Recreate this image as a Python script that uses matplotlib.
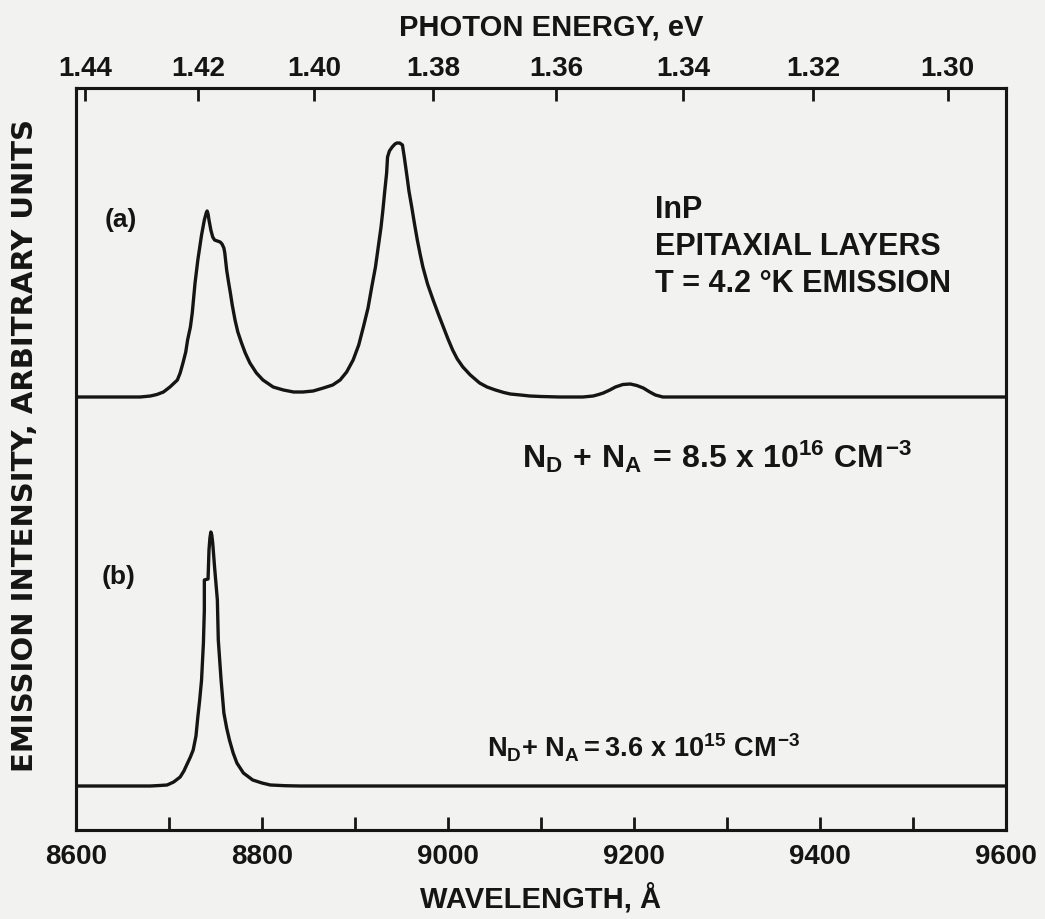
import numpy as np
import matplotlib.pyplot as plt


# Police proche de l'Helvetica grasse de l'original
plt.rcParams['font.family'] = ['Liberation Sans', 'DejaVu Sans']
plt.rcParams['font.weight'] = 'bold'
plt.rcParams['mathtext.fontset'] = 'custom'
plt.rcParams['mathtext.rm'] = 'Liberation Sans:bold'
plt.rcParams['mathtext.it'] = 'Liberation Sans:bold'
plt.rcParams['mathtext.bf'] = 'Liberation Sans:bold'

# Spectre (a) : N_D + N_A = 8.5e16 cm-3 (longueur d'onde en Å, intensité arbitraire)
longueur_a = [8600, 8669, 8680, 8687, 8694, 8701, 8709, 8712, 8715, 8718, 8720, 8723,
              8725, 8728, 8731, 8735, 8738, 8740, 8741, 8742, 8743, 8745, 8747, 8749,
              8752, 8755, 8757, 8759, 8760, 8762, 8764, 8766, 8768, 8771, 8774, 8778,
              8782, 8787, 8794, 8801, 8812, 8823, 8834, 8844, 8855, 8866, 8876, 8884,
              8891, 8898, 8904, 8909, 8914, 8918, 8922, 8925, 8928, 8930, 8932, 8934,
              8935, 8937, 8940, 8943, 8945, 8948, 8951, 8953, 8956, 8958, 8961, 8964,
              8967, 8970, 8973, 8978, 8984, 8990, 8995, 9000, 9005, 9010, 9016, 9024,
              9034, 9042, 9051, 9060, 9067, 9078, 9088, 9100, 9120, 9145, 9156, 9162,
              9167, 9174, 9180, 9188, 9196, 9203, 9210, 9217, 9223, 9231, 9600]
intensite_a = [0, 0, 1, 2.5, 5, 10, 17, 24, 34, 45, 57, 70,
               84, 114, 137, 162, 177, 184, 186, 183, 177, 167, 160, 157,
               156, 155, 153, 149, 144, 127, 115, 104, 92, 77, 65, 54,
               44, 34, 24, 17, 10, 7, 5, 5, 6, 9, 12, 17,
               25, 37, 52, 70, 89, 110, 130, 150, 170, 187, 206, 224,
               240, 246, 250, 253, 254, 254, 252, 240, 220, 206, 190, 173,
               157, 143, 130, 113, 97, 82, 70, 58, 47, 38, 30, 22,
               14, 10, 7, 4.5, 3, 2, 1, 0.5, 0, 0, 1, 2.5,
               4, 7, 10, 12.5, 13, 11.5, 9, 5, 2, 0, 0]

# Spectre (b) : N_D + N_A = 3.6e15 cm-3
longueur_b = [8600, 8680, 8690, 8698, 8705, 8712, 8716, 8720, 8723, 8726, 8729, 8731,
              8733, 8735, 8737, 8738, 8738, 8742, 8743, 8744, 8745, 8746, 8747, 8749,
              8752, 8753, 8756, 8759, 8762, 8765, 8769, 8773, 8780, 8790, 8800, 8809,
              8825, 8841, 9600]
intensite_b = [0, 0, 0.5, 1, 4, 9, 15, 23, 29, 36, 50, 69,
               86, 106, 143, 176, 206, 207, 236, 248, 254, 251, 243, 219,
               186, 146, 106, 73, 58, 46, 33, 23, 13, 6, 3, 1,
               0.3, 0, 0]

# Graduations
graduations_lambda = [8600, 8800, 9000, 9200, 9400, 9600]
graduations_mineures = [8700, 8900, 9100, 9300, 9500]
energies_ev = [1.44, 1.42, 1.40, 1.38, 1.36, 1.34, 1.32, 1.30]
etiquettes_ev = ["1.44", "1.42", "1.40", "1.38", "1.36", "1.34", "1.32", "1.30"]

HC = 12398.4  # eV.Å
COULEUR = '#151515'
FOND = '#f2f2f0'


def ev_vers_angstrom(e):
    return HC / np.asarray(e)


fig = plt.figure(figsize=(10.45, 9.19), dpi=100, facecolor=FOND)
ax = fig.add_axes([76 / 1045, 1 - 830 / 919, 930 / 1045, 742 / 919])
ax.set_facecolor(FOND)

# Décalage vertical des deux courbes
decalage_a = 433
decalage_b = 44

ax.plot(longueur_a, np.array(intensite_a) + decalage_a, color=COULEUR, lw=2.4,
        solid_joinstyle='round')
ax.plot(longueur_b, np.array(intensite_b) + decalage_b, color=COULEUR, lw=2.4,
        solid_joinstyle='round')

ax.set_xlim(8600, 9600)
ax.set_ylim(0, 742)

for spine in ax.spines.values():
    spine.set_linewidth(2.2)
    spine.set_color(COULEUR)

ax.set_yticks([])
ax.set_xticks(graduations_lambda)
ax.set_xticks(graduations_mineures, minor=True)
ax.set_xticklabels([str(v) for v in graduations_lambda])
ax.tick_params(axis='x', which='both', direction='in', length=9.5, width=2,
               color=COULEUR, labelsize=20, pad=10, labelcolor=COULEUR)

# Axe du haut : énergie des photons
ax_haut = ax.twiny()
ax_haut.set_xlim(ax.get_xlim())
ax_haut.set_xticks(ev_vers_angstrom(energies_ev))
ax_haut.set_xticklabels(etiquettes_ev)
ax_haut.tick_params(axis='x', direction='in', length=9, width=2, color=COULEUR,
                    labelsize=20, pad=4, labelcolor=COULEUR)
for spine in ax_haut.spines.values():
    spine.set_linewidth(2.2)
    spine.set_color(COULEUR)

# Titres des axes
fig.text(541 / 1045, 1 - 907 / 919, "WAVELENGTH, Å", ha='center', va='baseline',
         fontsize=21, color=COULEUR)
fig.text(551 / 1045, 1 - 35 / 919, "PHOTON ENERGY, eV", ha='center', va='baseline',
         fontsize=21, color=COULEUR)
fig.text(25 / 1045, 1 - 445 / 919, "EMISSION INTENSITY, ARBITRARY UNITS", rotation=90,
         ha='center', va='center', fontsize=21, color=COULEUR, family=['DejaVu Sans'])

# Annotations
ax.text(8631, 610, "(a)", ha='left', va='center', fontsize=19, color=COULEUR)
ax.text(8628, 253, "(b)", ha='left', va='center', fontsize=19, color=COULEUR)
ax.text(9223, 612, "InP", ha='left', va='baseline', fontsize=22, color=COULEUR)
ax.text(9223, 575, "EPITAXIAL LAYERS", ha='left', va='baseline', fontsize=22, color=COULEUR)
ax.text(9223, 538, "T = 4.2 °K EMISSION", ha='left', va='baseline', fontsize=22, color=COULEUR)
ax.text(9080, 362, r"$N_D\,+\,N_A\,=\,8.5\ x\ 10^{16}\ CM^{-3}$", ha='left', va='baseline',
        fontsize=23, color=COULEUR)
ax.text(9042, 72, r"$N_D{+}\ N_A = 3.6\ x\ 10^{15}\ CM^{-3}$", ha='left', va='baseline',
        fontsize=19.5, color=COULEUR)

fig.savefig("out.png", dpi=100, facecolor=FOND)
